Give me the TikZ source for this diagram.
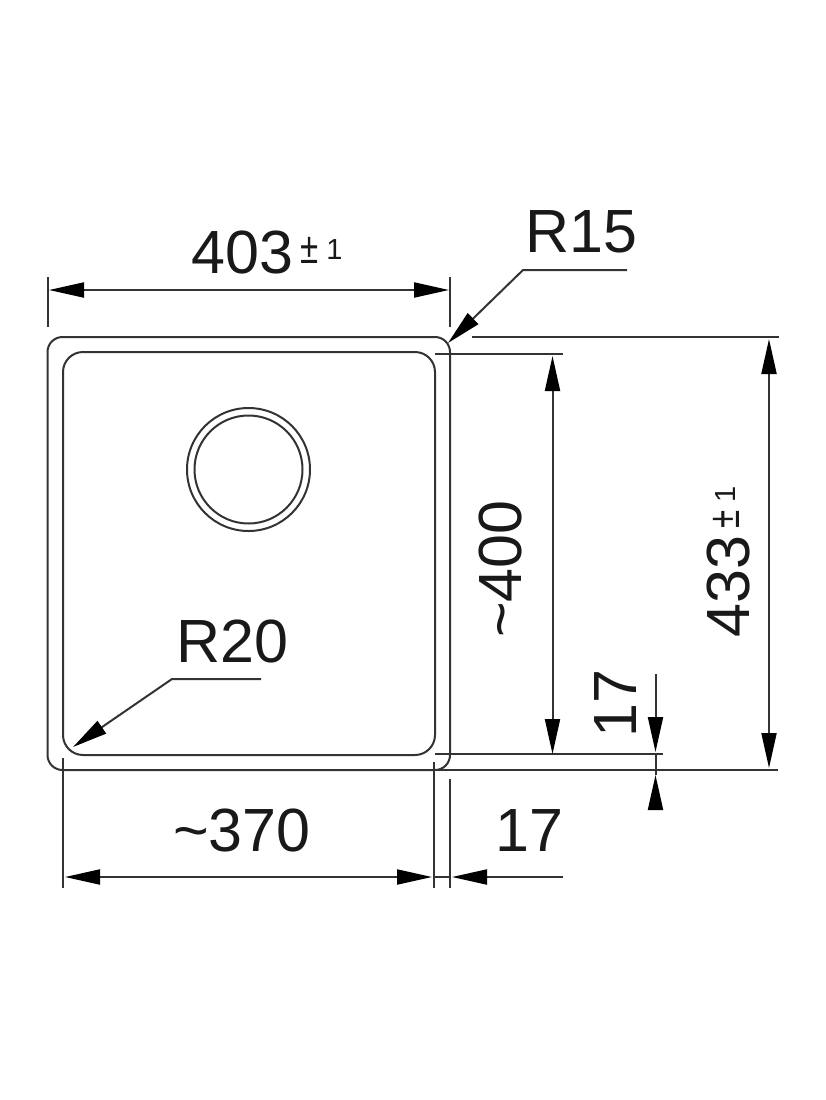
\documentclass[tikz,border=0pt]{standalone}
\usepackage{fontspec}
\setmainfont{Liberation Sans}
\usetikzlibrary{arrows.meta}
\tikzstyle{sheet}=[
  x=1pt,y=-1pt,>={Triangle[length=35pt,width=15pt,color=black]},color=black!80
]
\tikzstyle{rim}=[
  draw,line width=2pt,rounded corners=15pt
]
\tikzstyle{bowl}=[
  draw,line width=2pt,rounded corners=20pt
]
\tikzstyle{dim}=[
  line width=2pt
]
\tikzstyle{tip}=[
  inner sep=0pt,text=black!90,font=\fontsize{61}{61}\selectfont
]
\tikzstyle{tol}=[
  inner sep=0pt,text=black!90,font=\fontsize{44}{44}\selectfont
]
\newcommand{\tolone}{\raisebox{4pt}{\fontsize{29}{29}\selectfont\hspace{8pt}1}}
\newcommand{\tolsign}{\scalebox{0.75}[1]{±}}

\begin{document}
\begin{tikzpicture}[sheet]
  \useasboundingbox (0,0) rectangle (825,1100);
  % sink
  \draw [rim] (47.5,337) rectangle (450,770);
  \draw [bowl] (63,352) rectangle (435,755);
  \draw [line width=2pt] (248.5,469.5) circle (61.5);
  \draw [line width=2pt] (248.5,469.5) circle (54);
  % labels
  \node (w403) [tip,anchor=base west] at (191,273) {403};
  \node (w403tol) [tol,anchor=base west] at (300,263) {\tolsign\tolone};
  \node (r15) [tip,anchor=base west] at (525,252) {R15};
  \node (r20) [tip,anchor=base west] at (176,662) {R20};
  \node (w370) [tip,anchor=base west] at (173,851) {\string~370};
  \node (w17) [tip,anchor=base west] at (495,851) {17};
  \node (h400) [tip,rotate=90,anchor=base west] at (521,638) {\string~400};
  \node (h17) [tip,rotate=90,anchor=base west] at (636,738) {17};
  \node (h433) [tip,rotate=90,anchor=base west] at (749,638) {433};
  \node (h433tol) [tol,rotate=90,anchor=base west] at (739,529) {\tolsign\tolone};
  % extension lines
  \coordinate (a1) at (47.5,277);
  \coordinate (a2) at (47.5,327);
  \coordinate (b1) at (450,277);
  \coordinate (b2) at (450,327);
  \coordinate (c1) at (472,337);
  \coordinate (c2) at (779,337);
  \coordinate (d1) at (435,354);
  \coordinate (d2) at (563,354);
  \coordinate (e1) at (435,754);
  \coordinate (e2) at (663,754);
  \coordinate (f1) at (395,769.5);
  \coordinate (f2) at (778,769.5);
  \coordinate (g1) at (63,758);
  \coordinate (g2) at (63,888);
  \coordinate (k1) at (434,762);
  \coordinate (k2) at (434,888);
  \coordinate (m1) at (450,779);
  \coordinate (m2) at (450,888);
  \foreach \s/\t in {a1/a2,b1/b2,c1/c2,d1/d2,e1/e2,f1/f2,g1/g2,k1/k2,m1/m2}
    \draw [dim] (\s) -- (\t);
  % dimensions
  \draw [dim,<->] (49,290) -- (449,290);
  \draw [dim,<->] (65,877) -- (432,877);
  \draw [dim,->] (563,877) -- (452,877);
  \draw [dim] (434,877) -- (450,877);
  \draw [dim,<->] (552.5,356) -- (552.5,754);
  \draw [dim,<->] (769,339) -- (769,768);
  \draw [dim,->] (655.5,674) -- (655.5,752);
  \draw [dim,->] (655.5,807) -- (655.5,775);
  \draw [dim] (655.5,754) -- (655.5,775);
  % leaders
  \coordinate (p1) at (627,270);
  \coordinate (p2) at (523,270);
  \coordinate (p3) at (448,343);
  \draw [dim,->] (p1) -- (p2) -- (p3);
  \coordinate (q1) at (261,679);
  \coordinate (q2) at (172,679);
  \coordinate (q3) at (73,747);
  \draw [dim,->] (q1) -- (q2) -- (q3);
\end{tikzpicture}
\end{document}
